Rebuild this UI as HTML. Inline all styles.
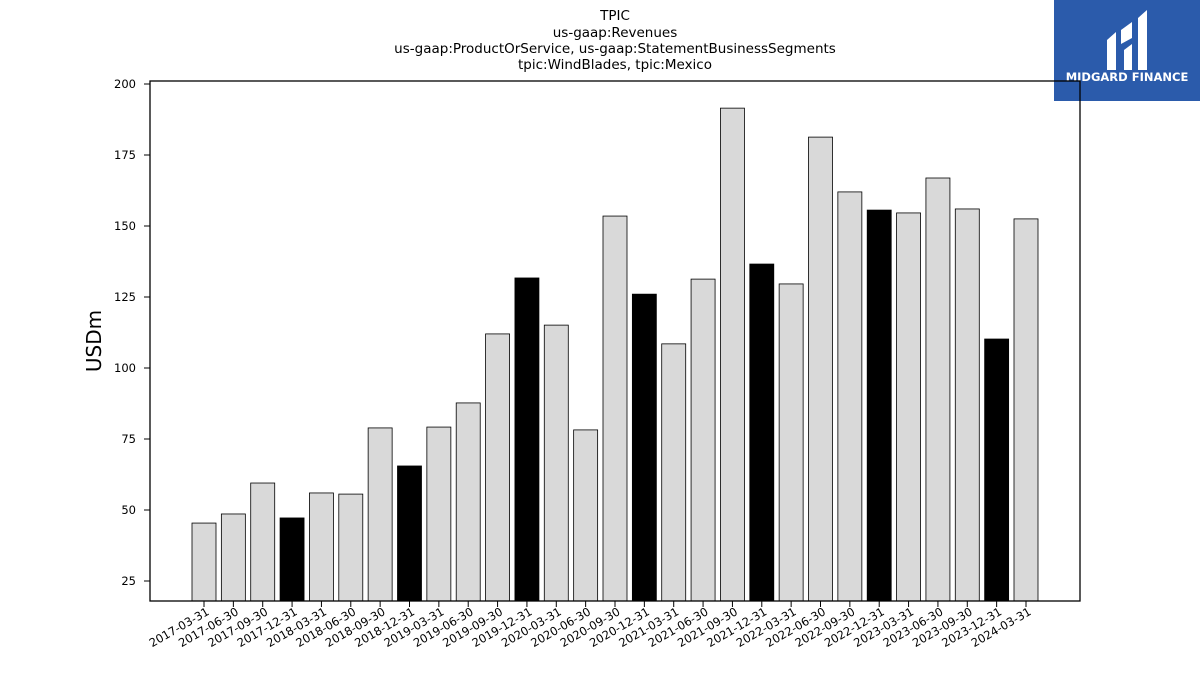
<!DOCTYPE html>
<html><head><meta charset="utf-8"><style>
body{margin:0;background:#fff;font-family:"Liberation Sans","DejaVu Sans",sans-serif}
svg text{font-family:"DejaVu Sans","Liberation Sans",sans-serif}
</style></head><body>
<svg id="chart" width="1200" height="675" viewBox="0 0 1200 675">
<g font-size="13.5" text-anchor="middle" fill="#000">
<text x="615" y="20">TPIC</text>
<text x="615" y="37">us-gaap:Revenues</text>
<text x="615" y="53">us-gaap:ProductOrService, us-gaap:StatementBusinessSegments</text>
<text x="615" y="69">tpic:WindBlades, tpic:Mexico</text>
</g>
<g>
<rect x="1054" y="0" width="146" height="101" fill="#2b5bab"/>
<path d="M1107 40 L1116 32 L1116 70 L1107 70 Z M1121 30 L1132 22 L1132 38 L1121 44 Z M1124 50 L1132 44 L1132 70 L1124 70 Z M1138 18 L1147 10 L1147 70 L1138 70 Z" fill="#fff"/>
<text x="1127" y="81" font-size="11.5" font-weight="bold" fill="#fff" text-anchor="middle">MIDGARD FINANCE</text>
</g>
<text x="101" y="341" font-size="20" text-anchor="middle" transform="rotate(-90 101 341)">USDm</text>
<g id="bars"></g>
<g id="yticks"></g>
<g id="xticks"></g>
<rect x="150" y="81" width="930" height="520" fill="none" stroke="#000" stroke-width="1.3"/>
</svg>
<script>
const categories=["2017-03-31","2017-06-30","2017-09-30","2017-12-31","2018-03-31","2018-06-30","2018-09-30","2018-12-31","2019-03-31","2019-06-30","2019-09-30","2019-12-31","2020-03-31","2020-06-30","2020-09-30","2020-12-31","2021-03-31","2021-06-30","2021-09-30","2021-12-31","2022-03-31","2022-06-30","2022-09-30","2022-12-31","2023-03-31","2023-06-30","2023-09-30","2023-12-31","2024-03-31"];
const values=[45.4,48.6,59.5,47.2,56,55.6,78.9,65.5,79.2,87.7,112,131.7,115.1,78.2,153.5,126,108.5,131.3,191.5,136.6,129.6,181.3,162,155.6,154.6,166.9,156,110.2,152.5];
const yTicks=[25,50,75,100,125,150,175,200];
const NS="http://www.w3.org/2000/svg";
const yMin=18,y0=581,y1=84;
function yScale(v){return y0-(v-25)*(y0-y1)/175;}
function xScale(i){return 204+i*(1026-204)/(categories.length-1);}
const bw=24;
const bars=document.getElementById('bars');
values.forEach((v,i)=>{
 const r=document.createElementNS(NS,'rect');
 
 
 const top=yScale(v),bot=yScale(yMin);
 r.setAttribute('x',xScale(i)-bw/2);r.setAttribute('y',top);
 r.setAttribute('width',bw);r.setAttribute('height',bot-top);
 r.setAttribute('fill',categories[i].endsWith('12-31')?'#000':'#d9d9d9');
 r.setAttribute('stroke','#000');r.setAttribute('stroke-width','0.8');
 bars.appendChild(r);
});
const yt=document.getElementById('yticks');
yTicks.forEach(t=>{
 const y=yScale(t);
 const l=document.createElementNS(NS,'line');
 
 
 l.setAttribute('x1',144);l.setAttribute('x2',150);l.setAttribute('y1',y);l.setAttribute('y2',y);l.setAttribute('stroke','#000');
 yt.appendChild(l);
 const tx=document.createElementNS(NS,'text');
 
 
 tx.setAttribute('x',136);tx.setAttribute('y',y+4);tx.setAttribute('font-size','11.5');tx.setAttribute('text-anchor','end');
 tx.textContent=t;yt.appendChild(tx);
});
const xt=document.getElementById('xticks');
categories.forEach((c,i)=>{
 const x=xScale(i);
 const l=document.createElementNS(NS,'line');
 
 
 l.setAttribute('x1',x);l.setAttribute('x2',x);l.setAttribute('y1',601);l.setAttribute('y2',607);l.setAttribute('stroke','#000');
 xt.appendChild(l);
 const tx=document.createElementNS(NS,'text');
 
 
 tx.setAttribute('x',x+6);tx.setAttribute('y',614);tx.setAttribute('font-size','11.5');tx.setAttribute('text-anchor','end');
 tx.setAttribute('transform','rotate(-30 '+(x+6)+' 614)');
 tx.textContent=c;xt.appendChild(tx);
});
</script>
</body></html>
